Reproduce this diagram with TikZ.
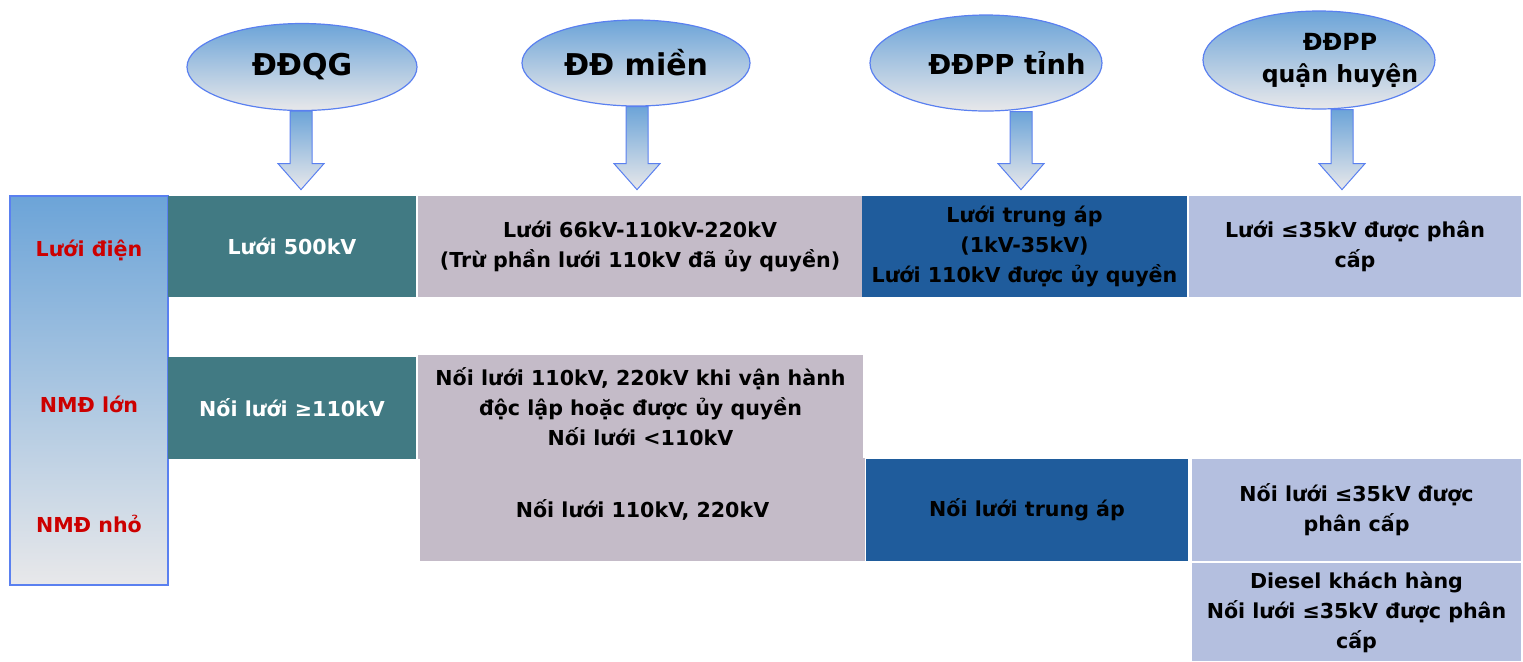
\documentclass[tikz,border=0pt]{standalone}
\usepackage{fontspec}
\setmainfont{DejaVu Sans}
\usetikzlibrary{shapes.geometric,calc}
\definecolor{tealbox}{HTML}{417A83}
\definecolor{mauvebox}{HTML}{C4BBC8}
\definecolor{darkbox}{HTML}{1F5C9C}
\definecolor{lavbox}{HTML}{B4BFDF}
\definecolor{edgeblue}{HTML}{5A80F0}
\definecolor{gradtop}{HTML}{6CA4D8}
\definecolor{gradbot}{HTML}{E8E8EA}
\definecolor{labelred}{HTML}{CC0000}
\tikzset{
  hdr/.style={ellipse, draw=edgeblue, line width=0.6pt, top color=gradtop, bottom color=gradbot,
    inner sep=0pt, align=center, text=black},
  cell/.style={rectangle, inner sep=0pt, align=center,
    font=\bfseries\fontsize{10.3}{15}\selectfont},
  sidelabel/.style={text=labelred, font=\bfseries\fontsize{10.3}{15}\selectfont},
  sidecol/.style={rectangle, draw=edgeblue, line width=0.7pt, top color=gradtop, bottom color=gradbot, inner sep=0pt},
  barrow/.style={draw=edgeblue, line width=0.5pt, top color=gradtop, bottom color=gradbot},
}
\newcommand\blockarrow[3]{%
  \path[barrow] let \p1=(#1,0), \p2=(#2.south), \p3=(#3.north) in
    (\x1-5.5pt,\y2) -- (\x1+5.5pt,\y2) -- (\x1+5.5pt,\y3+16pt) -- (\x1+11.5pt,\y3+16pt)
    -- (\x1,\y3+3pt) -- (\x1-11.5pt,\y3+16pt) -- (\x1-5.5pt,\y3+16pt) -- cycle;}
\begin{document}
\begin{tikzpicture}[x=0.5pt,y=-0.5pt]
\useasboundingbox (0,0) rectangle (1523,661);

% left column
\node[sidecol, minimum width=79pt, minimum height=194.5pt] (side) at (89,390.5) {};
\node[sidelabel] (sl1) at (89,250) {Lưới điện};
\node[sidelabel] (sl2) at (89,404) {NMĐ lớn};
\node[sidelabel] (sl3) at (89,524) {NMĐ nhỏ};

% row 1
\node[cell, fill=tealbox, text=white, minimum width=124pt, minimum height=50.5pt] (b500) at (292,246.5) {Lưới 500kV};
\node[cell, fill=mauvebox, minimum width=222pt, minimum height=50.5pt] (m1) at (640,246.5) {Lưới 66kV-110kV-220kV\\(Trừ phần lưới 110kV đã ủy quyền)};
\node[cell, fill=darkbox, minimum width=162.5pt, minimum height=50.5pt] (d1) at (1024.5,246.5) {\raisebox{-1.5pt}{\begin{tabular}{@{}c@{}}Lưới trung áp\\(1kV-35kV)\\Lưới 110kV được ủy quyền\end{tabular}}};
\node[cell, fill=lavbox, minimum width=166pt, minimum height=50.5pt] (l1) at (1355,246.5) {Lưới ≤35kV được phân\\cấp};

% row 2 / 3
\node[cell, fill=tealbox, text=white, minimum width=124pt, minimum height=51pt] (t2) at (292,408) {Nối lưới ≥110kV};
\node[cell, fill=mauvebox, minimum width=222.5pt, minimum height=52pt] (m2a) at (640.5,406.5) {Nối lưới 110kV, 220kV khi vận hành\\độc lập hoặc được ủy quyền\\Nối lưới <110kV};
\node[cell, fill=mauvebox, minimum width=222.5pt, minimum height=51.5pt] (m2b) at (642.5,509.75) {Nối lưới 110kV, 220kV};
\node[cell, fill=darkbox, minimum width=161pt, minimum height=51pt] (d2) at (1027,510) {Nối lưới trung áp};
\node[cell, fill=lavbox, minimum width=164.5pt, minimum height=51pt] (l2) at (1356.5,510) {Nối lưới ≤35kV được\\phân cấp};
\node[cell, fill=lavbox, minimum width=164.5pt, minimum height=49pt] (l3) at (1356.5,612) {Diesel khách hàng\\Nối lưới ≤35kV được phân\\cấp};

% headers
\node[hdr, minimum width=115pt, minimum height=43.5pt, font=\bfseries\fontsize{15}{18}\selectfont] (e1) at (302,67) {ĐĐQG};
\node[hdr, minimum width=114pt, minimum height=43pt, font=\bfseries\fontsize{15}{18}\selectfont] (e2) at (636,63) {ĐĐ miền};
\node[hdr, minimum width=116pt, minimum height=48pt, font=\bfseries\fontsize{13.7}{16}\selectfont] (e3) at (986,63) {\makebox[0pt]{\hspace*{21pt}ĐĐPP tỉnh}};
\node[hdr, minimum width=116pt, minimum height=49pt, font=\bfseries\fontsize{11.8}{16}\selectfont] (e4) at (1319,60) {\makebox[0pt]{\hspace*{21pt}\begin{tabular}{@{}c@{}}ĐĐPP\\quận huyện\end{tabular}}};

% block arrows
\blockarrow{301}{e1}{b500}
\blockarrow{637}{e2}{m1}
\blockarrow{1021}{e3}{d1}
\blockarrow{1342}{e4}{l1}
\end{tikzpicture}
\end{document}
